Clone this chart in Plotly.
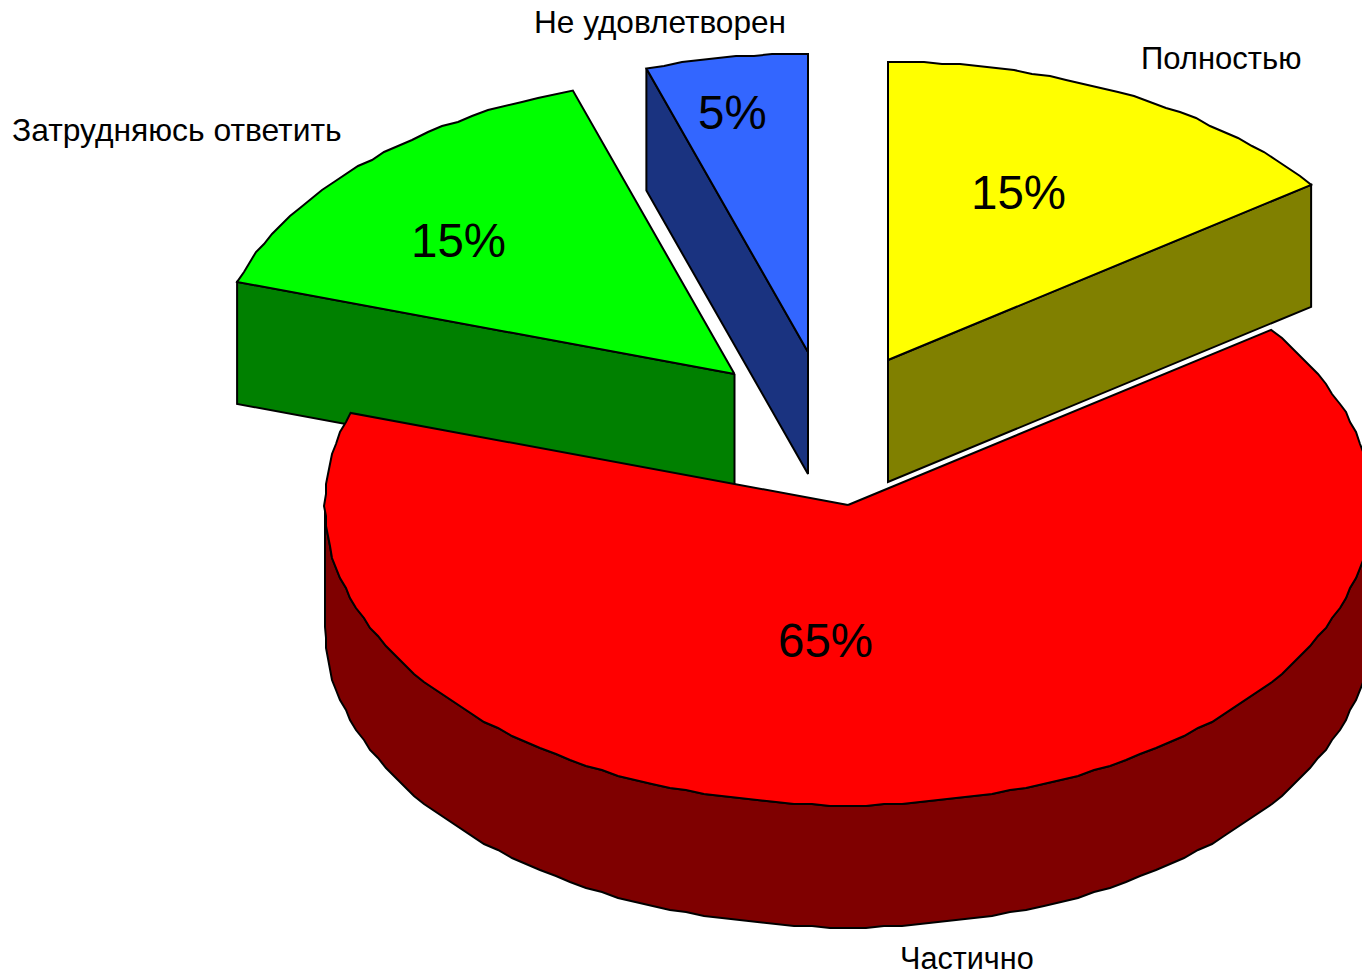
import numpy as np
import plotly.graph_objects as go

# Data
categories = ["Полностью", "Частично", "Затрудняюсь ответить", "Не удовлетворен"]
values = [15, 65, 15, 5]

# Styling / layout constants (pixels of the picture)
top_colors = ["#FFFF00", "#FF0000", "#00FF00", "#3366FF"]
side_colors = ["#808000", "#7F0000", "#008000", "#1A3380"]
explode_dx = [40, 0, -113.5, -40]
explode_dy = [-145, 0, -131, -153]
pct_xy = [(1018, 192), (825, 640), (458, 240), (732, 112)]
name_xy = [(1221, 58), (967, 958), (177, 130), (660, 22)]
name_size = [31.0, 30.6, 31.8, 31.6]
draw_order = [0, 3, 2, 1]
CX, CY, RX, RY_UP, RY_DN, DEPTH = 848, 505, 523, 298, 300.5, 122
GRID = 2.0   # the source drawing's coarse coordinate grid
STEP = 2.0
LW = 2
W, H = 1362, 975

cum = np.cumsum([0] + values) / sum(values) * 360.0
fig = go.Figure()


def poly(xs, ys, color):
    xs, ys = list(xs), list(ys)
    fig.add_trace(go.Scatter(
        x=xs + xs[:1], y=ys + ys[:1], mode="lines", fill="toself", fillcolor=color,
        line=dict(color="black", width=LW), hoverinfo="skip", showlegend=False))


def arc(a0, a1, cx, cy):
    n = max(int(round((a1 - a0) / STEP)), 1)
    t = np.radians(np.linspace(a0, a1, n + 1))
    c = np.cos(t)
    x = cx + RX * np.sin(t)
    y = cy - np.where(c > 0, RY_UP, RY_DN) * c
    xs = np.round(x / GRID) * GRID
    ys = np.round(y / GRID) * GRID
    xs[[0, -1]], ys[[0, -1]] = x[[0, -1]], y[[0, -1]]
    return xs, ys


for i in draw_order:
    a0, a1 = cum[i], cum[i + 1]
    cx, cy = CX + explode_dx[i], CY + explode_dy[i]
    ax, ay = arc(a0, a1, cx, cy)
    # outer rim: only the part facing the viewer
    r0, r1 = max(a0, 90.0), min(a1, 270.0)
    if r1 > r0:
        rx, ry = arc(r0, r1, cx, cy)
        poly(np.r_[rx, rx[::-1]], np.r_[ry, ry[::-1] + DEPTH], side_colors[i])
    # cut faces that face the viewer
    if np.sin(np.radians(a0)) < -1e-9:
        poly([cx, ax[0], ax[0], cx], [cy, ay[0], ay[0] + DEPTH, cy + DEPTH], side_colors[i])
    if np.sin(np.radians(a1)) > 1e-9:
        poly([cx, ax[-1], ax[-1], cx], [cy, ay[-1], ay[-1] + DEPTH, cy + DEPTH], side_colors[i])
    # top face
    poly(np.r_[cx, ax], np.r_[cy, ay], top_colors[i])

annotations = []
for i, cat in enumerate(categories):
    annotations.append(dict(x=pct_xy[i][0], y=pct_xy[i][1], text=f"{values[i]}%", showarrow=False,
                            xref="x", yref="y", xanchor="center", yanchor="middle",
                            font=dict(family="Liberation Sans", size=47.5, color="black")))
    annotations.append(dict(x=name_xy[i][0], y=name_xy[i][1], text=cat, showarrow=False,
                            xref="x", yref="y", xanchor="center", yanchor="middle",
                            font=dict(family="Liberation Sans", size=name_size[i], color="black")))

fig.update_layout(
    width=W, height=H, margin=dict(l=0, r=0, t=0, b=0),
    paper_bgcolor="white", plot_bgcolor="white", showlegend=False,
    xaxis=dict(range=[0, W], visible=False, fixedrange=True),
    yaxis=dict(range=[H, 0], visible=False, fixedrange=True),
    annotations=annotations,
)
fig.write_html("out.html", config={"displayModeBar": False},
               post_script="document.body.style.margin='0';document.body.style.overflow='hidden';")
